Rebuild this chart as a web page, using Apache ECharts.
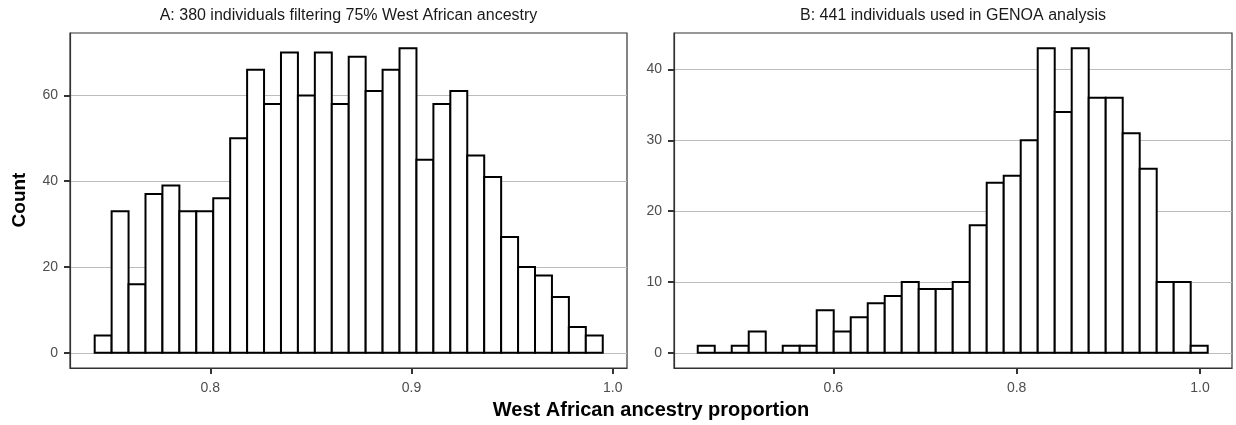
<!DOCTYPE html>
<html>
<head>
<meta charset="utf-8">
<script src="https://cdn.jsdelivr.net/npm/echarts@6/dist/echarts.min.js"></script>
<style>
html,body{margin:0;padding:0;background:#fff;}
#chart{width:1236px;height:425px;}
</style>
</head>
<body>
<div id="chart"></div>
<script>
// ---- Data ----
const titleA = 'A: 380 individuals filtering 75% West African ancestry';
const titleB = 'B: 441 individuals used in GENOA analysis';
const xTitle = 'West African ancestry proportion';
const yTitle = 'Count';

// Panel A histogram: 30 bins
const binStartA = 0.74257;
const binWidthA = 0.008416;
const countsA = [4, 33, 16, 37, 39, 33, 33, 36, 50, 66,
                 58, 70, 60, 70, 58, 69, 61, 66, 71, 45,
                 58, 61, 46, 41, 27, 20, 18, 13, 6, 4];

// Panel B histogram: 30 bins
const binStartB = 0.4521;
const binWidthB = 0.018543;
const countsB = [1, 0, 1, 3, 0, 1, 1, 6, 3, 5,
                 7, 8, 10, 9, 9, 10, 18, 24, 25, 30,
                 43, 34, 43, 36, 36, 31, 26, 10, 10, 1];

const xTicksA = [0.8, 0.9, 1.0];
const yTicksA = [0, 20, 40, 60];
const xTicksB = [0.6, 0.8, 1.0];
const yTicksB = [0, 10, 20, 30, 40];

// ---- Build ----
function toBins(start, width, counts) {
  return counts.map((c, i) => [start + i * width, start + (i + 1) * width, c]);
}
const dataA = toBins(binStartA, binWidthA, countsA);
const dataB = toBins(binStartB, binWidthB, countsB);

const FONT = 'Liberation Sans, Arial, Helvetica, sans-serif';
const tickColor = '#333333';
const labelColor = '#4d4d4d';

function renderBar(params, api) {
  const p0 = api.coord([api.value(0), api.value(2)]);
  const p1 = api.coord([api.value(1), 0]);
  return {
    type: 'rect',
    shape: { x: p0[0], y: p0[1], width: p1[0] - p0[0], height: p1[1] - p0[1] },
    style: { fill: '#ffffff', stroke: '#000000', lineWidth: 2 }
  };
}

function xAxis(gridIndex, min, max, ticks) {
  return {
    type: 'value', gridIndex, min, max, position: 'bottom',
    axisLine: { show: true, onZero: false, lineStyle: { color: '#333333', width: 1.2 } },
    axisTick: { show: true, length: 6, inside: false, alignWithLabel: true, customValues: ticks, lineStyle: { color: tickColor, width: 2 } },
    axisLabel: { show: true, customValues: ticks, margin: 13, color: labelColor, fontSize: 14, fontFamily: FONT,
                 formatter: v => v.toFixed(1) },
    splitLine: { show: false }
  };
}
function yAxis(gridIndex, min, max, ticks) {
  return {
    type: 'value', gridIndex, min, max, position: 'left',
    axisLine: { show: true, onZero: false, lineStyle: { color: '#333333', width: 1.2 } },
    axisTick: { show: true, length: 6, inside: false, customValues: ticks, lineStyle: { color: tickColor, width: 2 } },
    axisLabel: { show: true, customValues: ticks, margin: 12, color: labelColor, fontSize: 14, fontFamily: FONT,
                 formatter: v => String(Math.round(v)) },
    splitLine: { show: true, lineStyle: { color: '#bdbdbd', width: 1 } }
  };
}

const chart = echarts.init(document.getElementById('chart'), null, { renderer: 'canvas' });
chart.setOption({
  animation: false,
  backgroundColor: '#ffffff',
  grid: [
    { left: 70, top: 33, width: 557, height: 335, show: true, borderColor: '#333333', borderWidth: 1.2, backgroundColor: 'transparent' },
    { left: 674, top: 33, width: 558, height: 335, show: true, borderColor: '#333333', borderWidth: 1.2, backgroundColor: 'transparent' }
  ],
  xAxis: [
    xAxis(0, 0.7303, 1.0071, xTicksA),
    xAxis(1, 0.4262, 1.0349, xTicksB)
  ],
  yAxis: [
    yAxis(0, -3.55, 74.55, yTicksA),
    yAxis(1, -2.15, 45.15, yTicksB)
  ],
  series: [
    { type: 'custom', xAxisIndex: 0, yAxisIndex: 0, renderItem: renderBar, data: dataA, encode: { x: [0, 1], y: 2 }, clip: false },
    { type: 'custom', xAxisIndex: 1, yAxisIndex: 1, renderItem: renderBar, data: dataB, encode: { x: [0, 1], y: 2 }, clip: false }
  ],
  graphic: [
    { type: 'text', x: 348.5, y: 15.5, style: { text: titleA, align: 'center', verticalAlign: 'middle', font: '16px ' + FONT, fill: '#1a1a1a' } },
    { type: 'text', x: 953, y: 15.5, style: { text: titleB, align: 'center', verticalAlign: 'middle', font: '16px ' + FONT, fill: '#1a1a1a' } },
    { type: 'text', x: 651, y: 410, style: { text: xTitle, align: 'center', verticalAlign: 'middle', font: 'bold 20px ' + FONT, fill: '#000000' } },
    { type: 'text', x: 20, y: 200, rotation: Math.PI / 2, style: { text: yTitle, align: 'center', verticalAlign: 'middle', font: 'bold 19px ' + FONT, fill: '#000000' } }
  ]
});
</script>
</body>
</html>
